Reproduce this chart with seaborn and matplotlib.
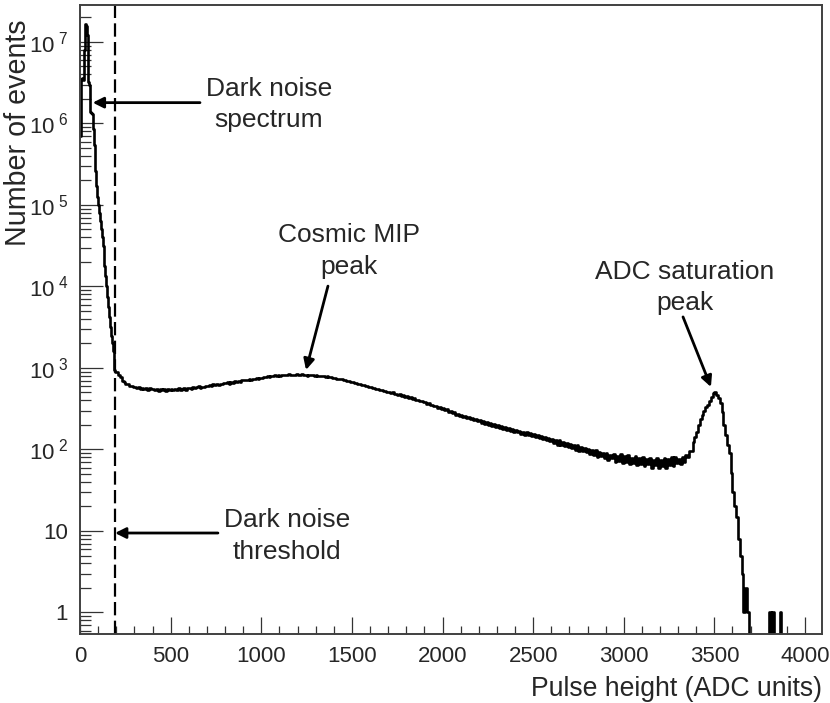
import numpy as np
import pandas as pd
import matplotlib
matplotlib.use("Agg")
import matplotlib.pyplot as plt
from matplotlib.ticker import LogLocator, FuncFormatter, MultipleLocator
import seaborn as sns

# bin edges (ADC units): 5-unit bins for the dark noise part, 10-unit bins after
dark_edges = np.arange(0, 200, 5)
main_edges = np.arange(200, 4101, 10)
edges = np.concatenate([dark_edges, main_edges])

# counts
dark_counts = [7.0e5, 3.5e6, 3.6e6, 3.4e6, 8.0e6, 1.5e7, 1.65e7, 1.55e7, 1.2e7, 3.2e6,
               3.0e6, 1.38e6, 1.35e6, 1.3e6, 8.5e5, 5.5e5, 3.8e5, 2.6e5, 1.7e5, 1.25e5,
               1.0e5, 8.0e4, 6.4e4, 5.1e4, 4.0e4, 3.1e4, 2.4e4, 1.8e4, 1.35e4, 1.0e4,
               7.5e3, 5.6e3, 4.2e3, 3.2e3, 2.5e3, 2.0e3, 1.6e3, 1.2e3, 950, 880]
# 200 - 3290, one row per 100 ADC units
bulk_counts = [885, 810, 772, 690, 672, 628, 631, 598, 606, 583,
               585, 566, 579, 552, 571, 548, 566, 541, 562, 549,
               556, 534, 551, 528, 549, 538, 556, 527, 545, 539,
               552, 531, 557, 542, 561, 538, 549, 566, 543, 560,
               571, 555, 582, 560, 578, 594, 569, 588, 576, 597,
               596, 618, 604, 627, 612, 633, 618, 641, 629, 646,
               652, 668, 644, 675, 662, 683, 670, 694, 681, 702,
               706, 719, 703, 732, 721, 742, 728, 756, 741, 762,
               760, 781, 770, 792, 776, 798, 787, 809, 795, 812,
               806, 824, 812, 831, 815, 836, 820, 829, 812, 838,
               828, 812, 835, 818, 826, 808, 830, 810, 821, 804,
               812, 795, 804, 786, 795, 776, 786, 770, 772, 758,
               755, 738, 742, 722, 726, 705, 709, 688, 692, 668,
               668, 646, 652, 628, 634, 612, 618, 597, 600, 582,
               590, 568, 574, 552, 556, 538, 544, 522, 528, 510,
               512, 494, 500, 481, 486, 469, 474, 455, 462, 446,
               450, 432, 438, 418, 424, 405, 410, 392, 397, 380,
               384, 365, 371, 350, 356, 338, 345, 326, 332, 316,
               322, 302, 310, 290, 298, 280, 286, 268, 275, 260,
               266, 250, 258, 244, 250, 236, 243, 229, 236, 224,
               230, 214, 222, 208, 215, 200, 209, 194, 203, 190,
               200, 184, 194, 178, 190, 174, 185, 168, 180, 165,
               174, 162, 169, 157, 166, 152, 162, 149, 158, 146,
               154, 141, 150, 137, 147, 133, 143, 130, 139, 127,
               134, 121, 131, 114, 132, 113, 124, 111, 121, 108,
               118, 104, 115, 98, 114, 97, 108, 95, 105, 92,
               102, 89, 98, 85, 99, 80, 93, 82, 90, 78,
               90, 75, 86, 78, 88, 70, 83, 73, 87, 68,
               82, 70, 85, 66, 79, 69, 83, 64, 78, 67,
               80, 63, 76, 66, 79, 60, 74, 64, 78, 59,
               74, 63, 79, 60, 76, 65, 81, 62, 80, 68]
# 3300 - 4090
tail_counts = [76, 66, 80, 70, 85, 80, 97, 95, 122, 142,
               165, 200, 235, 265, 300, 330, 350, 390, 445, 495,
               500, 470, 430, 370, 290, 200, 150, 115, 90, 52,
               30, 20, 15, 8, 5, 3, 1, 2, 1, 0,
               0, 0, 0, 0, 0, 0, 0, 0, 0, 0,
               1, 0, 1, 0, 0, 0, 1, 0, 0, 0,
               0, 0, 0, 0, 0, 0, 0, 0, 0, 0,
               0, 0, 0, 0, 0, 0, 0, 0, 0, 0]
counts = np.array(dark_counts + bulk_counts + tail_counts, dtype=float)
centers = (edges[:-1] + edges[1:]) / 2
df = pd.DataFrame({"adc": centers, "n": counts})

threshold = 193

sns.set_style("ticks")
plt.rcParams["font.family"] = ["Liberation Sans", "DejaVu Sans"]
plt.rcParams["mathtext.fontset"] = "custom"
plt.rcParams["mathtext.rm"] = "Liberation Sans"
plt.rcParams["mathtext.it"] = "Liberation Sans:italic"
plt.rcParams["mathtext.bf"] = "Liberation Sans:bold"

fig = plt.figure(figsize=(8.3, 7.03), dpi=100)
ax = fig.add_axes([0.0964, 0.0982, 0.894, 0.8947])

# bins as a plain list (seaborn compares bins to "auto")
sns.histplot(data=df, x="adc", weights="n", bins=edges.tolist(), element="step",
             fill=False, color="black", linewidth=1.9, ax=ax)
ax.set_yscale("log")
ax.set_xlim(0, 4094)
ax.set_ylim(0.545, 2.84e7)

ax.axvline(threshold, color="black", lw=1.6, linestyle=(0, (6, 2.4)))

# axes cosmetics
for sp in ax.spines.values():
    sp.set_visible(True)
    sp.set_color("#404040")
    sp.set_linewidth(1.4)

ax.xaxis.set_major_locator(MultipleLocator(500))
ax.xaxis.set_minor_locator(MultipleLocator(100))
ax.yaxis.set_major_locator(LogLocator(base=10, numticks=20))
ax.yaxis.set_minor_locator(LogLocator(base=10, subs=np.arange(2, 10), numticks=100))


def ylab(v, pos):
    n = int(round(np.log10(v)))
    if n == 0:
        return "1"
    if n == 1:
        return "10"
    return "10$^{\\ %d}$" % n


ax.yaxis.set_major_formatter(FuncFormatter(ylab))
ax.tick_params(axis="both", which="both", direction="in", color="#333333",
               top=False, right=False, labelsize=16)
ax.tick_params(axis="y", which="major", length=16.5, width=0.9, pad=8.5)
ax.tick_params(axis="y", which="minor", length=8, width=0.9)
ax.tick_params(axis="x", which="major", length=12.5, width=0.9, pad=9)
ax.tick_params(axis="x", which="minor", length=6, width=0.9)

ax.set_xlabel("Pulse height (ADC units)", fontsize=19.2, loc="right", labelpad=6)
ax.set_ylabel("Number of events", fontsize=20.6, loc="top")
ax.yaxis.label.set_va("baseline")
ax.yaxis.set_label_coords(-0.0728, 0.977)

# annotations
arrow = dict(arrowstyle="-|>", color="black", lw=2, mutation_scale=16,
             shrinkA=0, shrinkB=0)
txt = dict(fontsize=19, ha="center", va="center", linespacing=1.4)
ax.annotate("", xy=(70, 1.8e6), xytext=(662, 1.8e6), arrowprops=arrow)
ax.text(1043, 1.71e6, "Dark noise\nspectrum", **txt)

ax.annotate("", xy=(threshold, 9.44), xytext=(761, 9.44), arrowprops=arrow)
ax.text(1142, 8.69, "Dark noise\nthreshold", **txt)

ax.annotate("", xy=(1247, 945), xytext=(1368, 1.01e4), arrowprops=arrow)
ax.text(1484, 2.73e4, "Cosmic MIP\npeak", **txt)

ax.annotate("", xy=(3481, 585), xytext=(3327, 4.23e3), arrowprops=arrow)
ax.text(3338, 9.73e3, "ADC saturation\npeak", **txt)

ax.grid(False)
fig.savefig("out.png", dpi=100)
